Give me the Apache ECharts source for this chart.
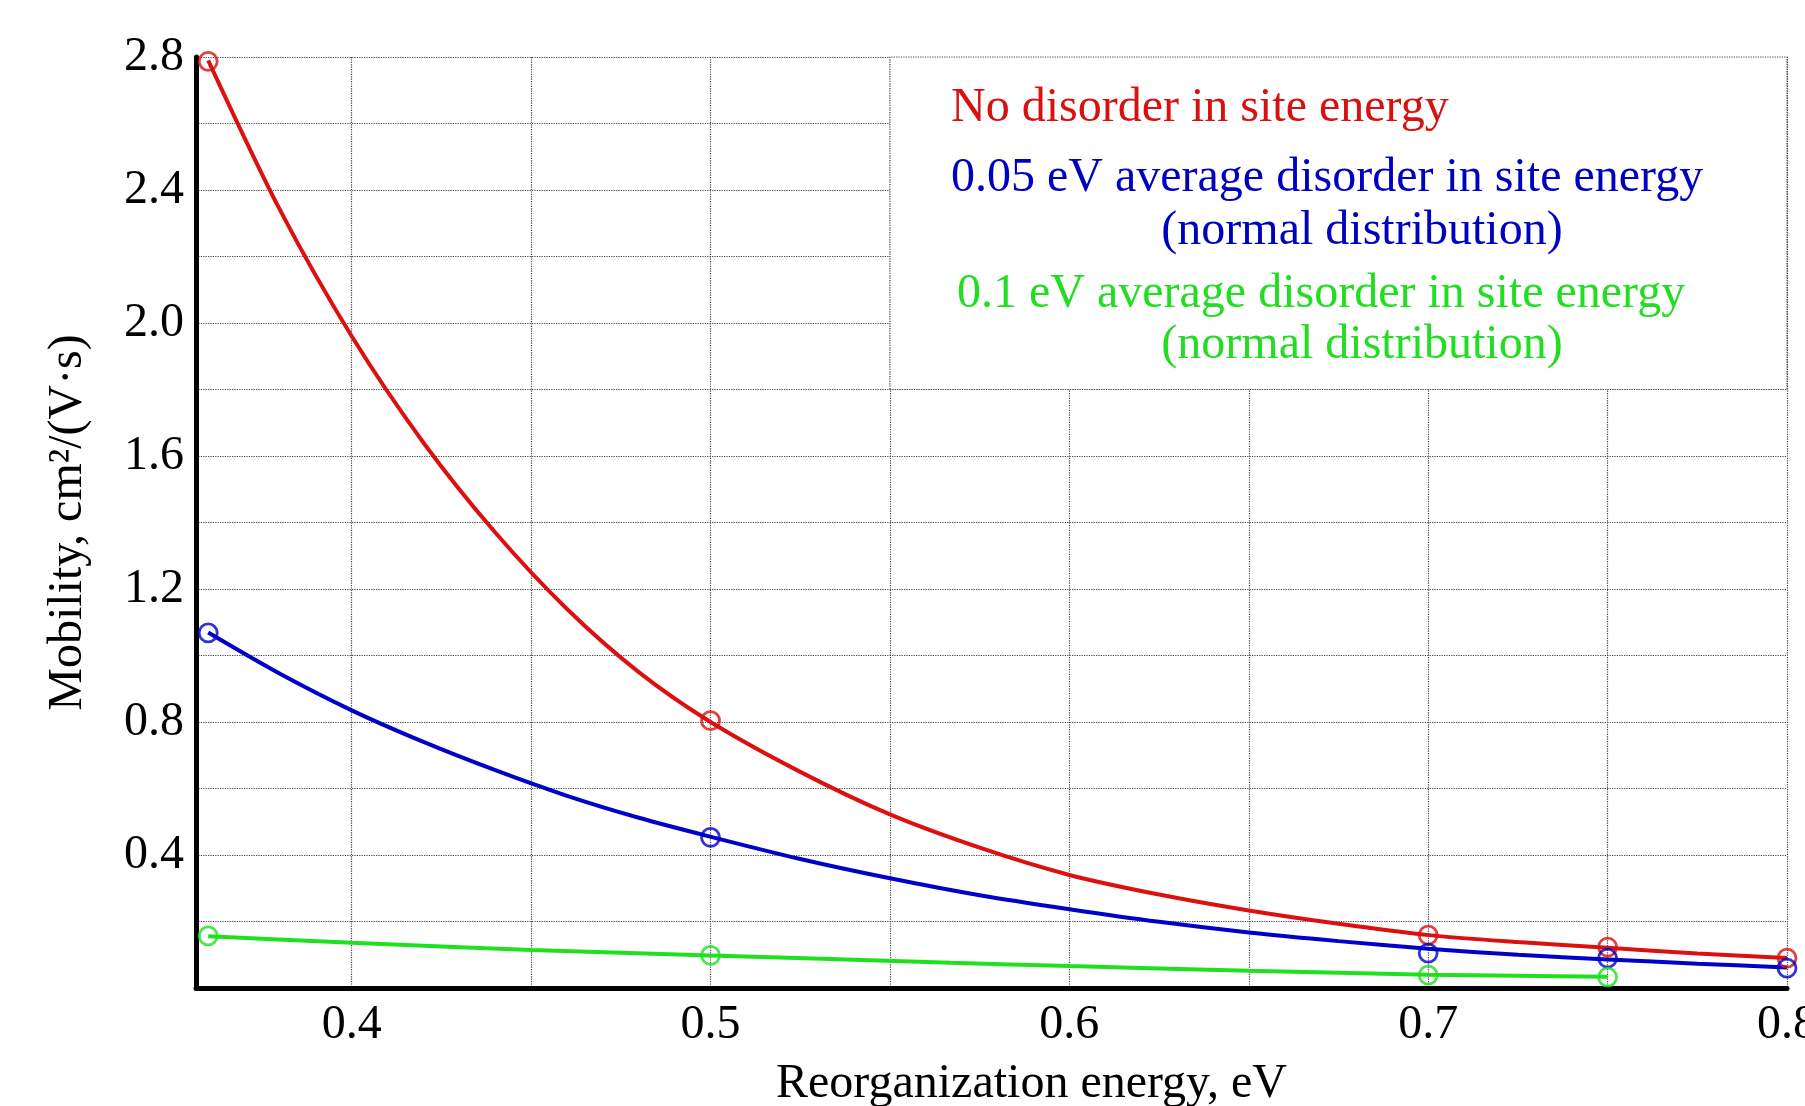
<!DOCTYPE html>
<html>
<head>
<meta charset="utf-8">
<script src="https://cdn.jsdelivr.net/npm/echarts@6/dist/echarts.min.js"></script>
<style>
html,body{margin:0;padding:0;background:#fff;}
#chart{width:1805px;height:1106px;}
</style>
</head>
<body>
<div id="chart"></div>
<script>
// ---- Data ----
const xTickLabels = [0.4, 0.5, 0.6, 0.7, 0.8];
const xGridValues = [0.4, 0.45, 0.5, 0.55, 0.6, 0.65, 0.7, 0.75, 0.8];
const yTickLabels = [0.4, 0.8, 1.2, 1.6, 2.0, 2.4, 2.8];

// computed points (markers)
const redPoints   = [[0.36, 2.787], [0.5, 0.804], [0.7, 0.159], [0.75, 0.123], [0.8, 0.090]];
const bluePoints  = [[0.36, 1.068], [0.5, 0.453], [0.7, 0.105], [0.75, 0.090], [0.8, 0.060]];
const greenPoints = [[0.36, 0.157], [0.5, 0.098], [0.7, 0.039], [0.75, 0.033]];

// fitted curves, values
const redCurve = [[0.36, 2.79], [0.38, 2.34], [0.40, 1.96], [0.42, 1.64], [0.44, 1.37], [0.46, 1.14],
  [0.48, 0.95], [0.50, 0.80], [0.525, 0.65], [0.55, 0.522], [0.575, 0.422], [0.60, 0.34], [0.625, 0.281],
  [0.65, 0.233], [0.675, 0.193], [0.70, 0.159], [0.725, 0.138], [0.75, 0.121], [0.775, 0.104], [0.80, 0.090]];
const blueCurve = [[0.36, 1.069], [0.38, 0.945], [0.40, 0.835], [0.42, 0.74], [0.44, 0.655], [0.46, 0.578],
  [0.48, 0.512], [0.50, 0.455], [0.525, 0.388], [0.55, 0.33], [0.575, 0.279], [0.60, 0.237], [0.625, 0.199],
  [0.65, 0.167], [0.675, 0.141], [0.70, 0.118], [0.725, 0.100], [0.75, 0.086], [0.775, 0.073], [0.80, 0.062]];
const greenCurve = [[0.36, 0.156], [0.40, 0.136], [0.45, 0.114], [0.50, 0.098], [0.567, 0.076],
  [0.60, 0.066], [0.65, 0.052], [0.70, 0.040], [0.725, 0.037], [0.75, 0.034]];

const legendBox = [[0.55, 1.8], [0.8, 2.8]];

const seriesNames = [
  'No disorder in site energy',
  '0.05 eV average disorder in site energy',
  '0.1 eV average disorder in site energy'
];
const subNote = '(normal distribution)';

// ---- Styles ----
const FONT = '"Liberation Serif", "Times New Roman", serif';
const FS = 48;
const RED = '#dd1010', BLUE = '#0000c8', GREEN = '#1fe01f';
const gridLine = {show: true, lineStyle: {color: '#444', type: 'dotted', width: 1.2}};

const chart = echarts.init(document.getElementById('chart'), null, {renderer: 'canvas'});

function curveSeries(data, color) {
  return {
    type: 'line', data: data, smooth: 0.3, showSymbol: false, symbol: 'none',
    lineStyle: {color: color, width: 4}, z: 3, silent: true
  };
}
function pointSeries(data, color) {
  return {
    type: 'scatter', data: data, symbol: 'circle', symbolSize: 18,
    itemStyle: {color: 'rgba(0,0,0,0)', borderColor: color, borderWidth: 2.8}, z: 4, silent: true
  };
}

const option = {
  backgroundColor: '#fff',
  animation: false,
  grid: {left: 196, top: 57, right: 18, bottom: 118, outerBoundsMode: 'none', containLabel: false},
  xAxis: {
    type: 'value', min: 0.3566, max: 0.8,
    name: 'Reorganization energy, eV', nameLocation: 'middle', nameGap: 72,
    nameTextStyle: {fontFamily: FONT, fontSize: FS, color: '#000', padding: [0, 0, 0, 80]},
    axisLine: {show: true, onZero: false, lineStyle: {color: '#000', width: 5}},
    axisTick: {show: false, customValues: xGridValues},
    axisLabel: {customValues: xTickLabels, fontFamily: FONT, fontSize: FS, color: '#000', margin: 13,
      formatter: v => Number(v).toFixed(1)},
    splitLine: gridLine
  },
  yAxis: {
    type: 'value', min: 0, max: 2.8, interval: 0.2,
    name: 'Mobility, cm²/(V·s)', nameLocation: 'middle', nameGap: 104, nameRotate: 90,
    nameTextStyle: {fontFamily: FONT, fontSize: FS, color: '#000'},
    axisLine: {show: true, onZero: false, lineStyle: {color: '#000', width: 5}},
    axisTick: {show: false},
    axisLabel: {customValues: yTickLabels, fontFamily: FONT, fontSize: FS, color: '#000', margin: 12,
      formatter: v => Number(v).toFixed(1)},
    splitLine: gridLine
  },
  series: [
    Object.assign(curveSeries(redCurve, RED), {
      markArea: {
        silent: true,
        itemStyle: {color: '#fff', borderColor: '#444', borderType: 'dotted', borderWidth: 1.2},
        data: [[{xAxis: legendBox[0][0], yAxis: legendBox[0][1]}, {xAxis: legendBox[1][0], yAxis: legendBox[1][1]}]]
      }
    }),
    curveSeries(blueCurve, BLUE),
    curveSeries(greenCurve, GREEN),
    pointSeries(redPoints, RED),
    pointSeries(bluePoints, BLUE),
    pointSeries(greenPoints, GREEN)
  ],
  graphic: [
    {type: 'text', z: 10, style: {text: seriesNames[0], x: 951, y: 108, fill: '#d81010', font: FS + 'px ' + FONT, textAlign: 'left', textVerticalAlign: 'middle'}},
    {type: 'text', z: 10, style: {text: seriesNames[1], x: 951, y: 178, fill: '#0000c0', font: FS + 'px ' + FONT, textAlign: 'left', textVerticalAlign: 'middle'}},
    {type: 'text', z: 10, style: {text: subNote, x: 1362, y: 231, fill: '#0000c0', font: FS + 'px ' + FONT, textAlign: 'center', textVerticalAlign: 'middle'}},
    {type: 'text', z: 10, style: {text: seriesNames[2], x: 957, y: 294, fill: '#22dd22', font: FS + 'px ' + FONT, textAlign: 'left', textVerticalAlign: 'middle'}},
    {type: 'text', z: 10, style: {text: subNote, x: 1362, y: 345, fill: '#22dd22', font: FS + 'px ' + FONT, textAlign: 'center', textVerticalAlign: 'middle'}}
  ]
};
chart.setOption(option);
</script>
</body>
</html>
